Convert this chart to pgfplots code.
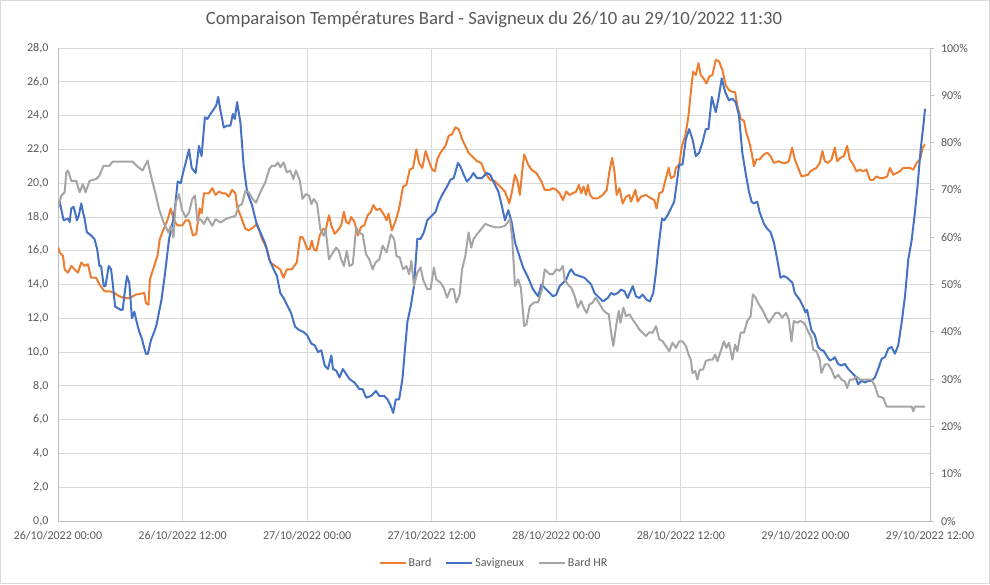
\documentclass[border=0pt]{standalone}
\usepackage{fontspec}
\setmainfont{Carlito}
\usepackage{pgfplots}
\usepackage{pgfplotstable}
\pgfplotsset{compat=1.18}
\definecolor{cBard}{HTML}{ED7D31}
\definecolor{cSav}{HTML}{4472C4}
\definecolor{cHR}{HTML}{A5A5A5}
\definecolor{cGrid}{HTML}{D9D9D9}
\definecolor{cAxis}{HTML}{BFBFBF}
\definecolor{cText}{HTML}{595959}

\pgfplotstableread{
t T
0.00 16.2
0.16 15.9
0.48 15.7
0.64 14.9
0.96 14.7
1.28 15.1
1.60 14.9
1.92 14.7
2.24 15.3
2.56 15.1
2.88 15.2
3.19 14.4
3.67 14.4
3.99 14.0
4.47 13.6
4.95 13.6
5.43 13.5
5.91 13.3
6.39 13.2
6.87 13.2
7.51 13.4
8.31 13.5
8.47 12.9
8.72 12.8
8.85 14.3
9.27 15.1
9.58 15.7
9.81 16.7
10.13 17.2
10.54 17.8
10.86 18.5
11.18 17.8
11.50 17.5
11.98 17.5
12.30 17.8
12.62 17.8
13.00 16.9
13.32 17.0
13.64 18.5
13.83 18.2
14.06 19.4
14.54 19.4
14.86 19.7
15.18 19.3
15.50 19.5
15.81 19.4
16.13 19.4
16.45 19.2
16.77 19.6
17.09 19.4
17.25 18.6
17.57 18.1
18.05 17.3
18.37 17.2
18.85 17.4
19.17 17.6
19.65 16.7
20.13 16.1
20.45 15.3
20.93 15.1
21.41 14.9
21.73 14.4
22.04 14.9
22.52 14.9
23.00 15.3
23.32 16.8
23.55 16.8
23.78 16.5
24.00 16.1
24.25 16.1
24.45 16.6
24.64 16.1
24.89 16.0
25.21 16.9
25.53 17.3
25.78 17.2
26.10 18.1
26.33 17.5
26.65 17.0
26.96 17.2
27.28 17.5
27.54 18.3
27.76 17.7
28.02 17.6
28.24 18.0
28.56 17.7
28.88 16.9
29.20 17.4
29.51 17.5
29.83 18.1
30.15 18.3
30.37 18.7
30.69 18.4
31.01 18.5
31.43 18.1
31.65 17.8
31.84 18.2
32.16 17.2
32.54 17.8
32.86 18.5
33.24 19.8
33.56 19.9
33.88 20.8
34.20 20.9
34.52 22.0
34.77 21.2
35.09 20.9
35.41 21.9
35.73 21.3
36.05 20.8
36.30 20.7
36.53 21.4
36.84 21.8
37.32 22.2
37.64 22.8
37.96 22.9
38.28 23.3
38.60 23.2
38.92 22.6
39.24 22.2
39.55 21.8
39.87 21.6
40.35 21.3
40.76 21.2
41.15 20.6
41.63 20.2
42.10 20.1
42.58 19.8
43.06 19.5
43.47 18.8
43.70 19.4
44.02 20.5
44.27 20.1
44.49 19.3
44.72 20.7
44.91 21.7
45.29 21.1
45.61 20.8
46.09 20.6
46.57 20.1
46.88 19.6
47.36 19.6
47.68 19.7
48.00 19.6
48.32 19.4
48.64 19.0
48.96 19.5
49.28 19.3
49.60 19.4
49.92 19.5
50.18 19.9
50.40 19.4
50.62 19.8
50.88 19.3
51.04 19.9
51.26 19.3
51.52 19.1
52.00 19.1
52.48 19.3
52.86 19.6
53.12 20.7
53.38 21.5
53.60 20.7
53.82 19.3
54.08 19.7
54.40 18.8
54.72 19.2
55.04 19.3
55.20 18.9
55.62 19.6
55.84 18.9
56.16 19.2
56.64 19.3
57.12 19.1
57.44 19.0
57.66 18.5
57.92 19.4
58.24 19.5
58.56 20.3
58.82 20.9
59.04 20.3
59.36 20.4
59.52 20.9
59.84 21.1
60.10 22.2
60.42 22.8
60.74 24.0
60.96 25.4
61.18 26.6
61.44 26.4
61.70 27.1
61.92 26.4
62.18 26.2
62.46 25.9
62.72 26.3
63.04 26.4
63.36 27.3
63.68 27.2
64.00 26.7
64.32 25.8
64.64 25.5
64.96 25.4
65.22 25.4
65.44 24.6
65.76 23.8
66.08 23.7
66.30 23.0
66.56 22.5
66.82 21.8
67.04 21.0
67.26 21.4
67.58 21.4
68.00 21.7
68.32 21.8
68.64 21.6
68.96 21.2
69.44 21.3
69.76 21.2
70.14 21.2
70.40 21.3
70.72 22.1
70.98 21.4
71.30 20.9
71.62 20.4
71.94 20.45
72.26 20.5
72.48 20.7
72.74 20.8
73.06 20.9
73.38 21.2
73.64 21.9
73.87 21.3
74.19 21.2
74.51 21.4
74.83 22.1
75.06 21.3
75.38 21.5
75.70 21.6
76.02 22.2
76.28 21.4
76.60 21.1
76.92 20.7
77.24 20.8
77.57 20.7
77.89 20.8
78.21 20.2
78.53 20.2
78.85 20.4
79.17 20.3
79.50 20.3
79.88 20.4
80.14 20.9
80.46 20.5
80.78 20.6
81.11 20.7
81.43 20.9
81.75 20.9
82.07 20.9
82.39 20.8
82.71 21.2
83.04 21.4
83.29 22.1
83.52 22.3
}\bard

\pgfplotstableread{
t T
0.00 18.6
0.16 18.9
0.54 17.8
0.96 17.9
1.12 17.7
1.28 18.5
1.50 18.6
1.63 18.3
1.82 17.8
2.01 18.1
2.24 18.8
2.40 18.3
2.56 17.9
2.78 17.1
3.19 16.9
3.51 16.7
3.77 16.1
3.99 15.1
4.15 15.1
4.41 13.9
4.57 13.9
4.89 15.1
5.11 14.9
5.27 14.1
5.50 12.7
5.75 12.6
6.07 12.5
6.23 12.5
6.42 13.5
6.65 14.5
6.87 14.1
7.12 12.0
7.35 12.4
7.57 11.8
7.83 11.2
8.08 10.8
8.24 10.4
8.47 9.9
8.66 9.9
8.95 10.7
9.27 11.2
9.49 11.6
9.74 12.4
9.97 13.1
10.32 14.7
10.70 16.7
11.09 17.8
11.28 18.6
11.53 20.1
11.82 20.0
12.04 20.6
12.30 21.2
12.62 22.0
12.88 20.9
13.26 20.6
13.58 22.2
13.83 21.6
14.15 23.9
14.38 23.8
14.70 24.1
15.02 24.4
15.24 24.6
15.43 25.1
15.65 24.3
15.97 23.3
16.29 23.4
16.61 23.4
16.84 24.1
17.03 23.8
17.25 24.8
17.57 23.6
17.89 21.0
18.21 19.5
18.69 18.7
19.17 17.5
19.49 17.1
19.97 16.4
20.35 15.5
20.77 14.9
21.09 14.5
21.41 13.5
21.73 13.2
22.14 12.7
22.46 12.3
22.84 11.5
23.23 11.3
23.62 11.2
24.00 11.0
24.41 10.5
24.73 10.4
25.05 10.0
25.37 10.1
25.69 9.2
26.01 9.0
26.33 9.8
26.49 9.0
26.80 8.9
27.12 8.5
27.44 9.0
27.76 8.7
28.08 8.4
28.56 8.2
29.04 7.8
29.35 7.8
29.67 7.3
30.15 7.4
30.63 7.7
30.95 7.4
31.43 7.4
31.74 7.2
32.06 6.8
32.29 6.4
32.54 7.2
32.86 7.2
33.18 8.4
33.43 10.2
33.66 11.8
33.98 12.7
34.29 13.9
34.61 16.7
34.93 16.7
35.25 17.1
35.57 17.8
36.05 18.1
36.37 18.3
36.69 18.9
37.00 19.3
37.48 19.8
37.80 20.2
38.12 20.3
38.53 21.2
38.76 21.0
39.08 20.5
39.39 20.1
39.71 20.3
40.03 20.6
40.35 20.3
40.83 20.3
41.31 20.6
41.63 20.5
42.10 19.9
42.42 19.5
42.74 18.7
43.06 17.8
43.38 18.4
43.70 17.7
44.02 16.5
44.49 15.6
44.81 15.0
45.29 14.4
45.77 13.7
46.25 13.3
46.57 14.0
47.04 13.7
47.36 13.5
47.68 13.3
48.00 13.4
48.32 13.9
48.64 14.1
48.96 14.3
49.22 14.7
49.44 14.9
49.76 14.6
50.24 14.5
50.72 14.4
51.04 14.2
51.36 14.0
51.68 13.5
52.00 13.3
52.48 13.0
52.96 13.2
53.28 13.5
53.60 13.4
53.92 13.5
54.24 13.7
54.56 13.6
54.88 13.2
55.36 13.9
55.68 13.3
56.00 13.2
56.32 13.4
56.70 13.1
57.02 13.0
57.34 13.5
57.60 14.7
57.86 16.3
58.18 17.9
58.40 17.8
58.72 18.1
59.04 18.5
59.36 18.9
59.58 19.9
59.84 21.1
60.16 21.1
60.48 22.6
60.80 23.2
61.12 22.6
61.44 21.6
61.76 21.8
62.08 22.4
62.40 23.2
62.66 23.2
62.98 25.1
63.36 24.2
63.62 25.0
63.94 26.2
64.26 25.4
64.64 24.9
64.96 25.0
65.28 24.8
65.60 24.0
65.92 21.8
66.24 20.6
66.56 19.5
66.82 18.9
67.04 18.8
67.36 18.9
67.58 18.3
68.00 17.6
68.32 17.3
68.64 17.1
68.96 16.5
69.28 15.5
69.60 14.4
69.92 14.5
70.24 14.4
70.75 14.1
70.97 13.5
71.20 13.3
71.45 13.1
71.77 12.7
72.00 12.35
72.16 12.5
72.35 11.95
72.58 11.3
72.90 11.0
73.22 10.3
73.54 10.1
73.71 10.1
74.03 9.8
74.35 9.5
74.67 9.6
74.83 9.7
75.15 9.3
75.47 9.2
75.80 9.3
76.12 9.0
76.44 8.8
76.76 8.6
77.08 8.1
77.41 8.3
77.73 8.2
78.05 8.3
78.37 8.3
78.69 8.5
79.01 9.0
79.34 9.6
79.66 9.7
79.98 10.2
80.30 10.3
80.62 9.9
80.94 10.4
81.27 11.75
81.59 13.3
81.91 15.5
82.23 16.6
82.55 18.3
82.81 19.9
83.10 22.0
83.36 23.4
83.52 24.4
}\sav

\pgfplotstableread{
t H
0.00 66.3
0.32 68.8
0.64 69.5
0.80 73.7
0.96 74.1
1.28 71.9
1.76 71.9
2.08 69.5
2.40 71.2
2.65 69.5
3.04 71.9
3.67 72.3
3.99 73.0
4.38 75.1
4.95 75.1
5.27 76.0
7.19 76.0
7.57 75.1
8.15 74.1
8.63 76.2
8.95 73.0
9.36 69.5
9.74 65.9
10.22 62.8
10.64 61.0
10.86 62.4
11.12 59.9
11.34 67.3
11.66 69.1
11.92 65.9
12.30 64.2
12.62 65.2
12.94 68.1
13.19 68.8
13.42 63.5
13.74 63.8
14.06 62.8
14.38 64.2
14.86 62.4
15.18 63.8
15.65 63.1
16.13 63.8
16.61 64.2
17.09 64.5
17.41 66.6
17.73 67.0
18.05 69.8
18.37 69.5
18.75 68.1
19.07 67.3
19.49 69.5
19.97 71.6
20.35 74.4
20.61 75.1
20.93 75.1
21.18 75.8
21.41 74.8
21.73 75.8
22.04 73.7
22.36 74.1
22.68 72.3
22.91 74.1
23.30 72.0
23.55 68.1
23.87 69.1
24.19 68.8
24.41 67.0
24.64 68.1
24.96 67.0
25.27 61.7
25.59 60.3
25.78 61.7
26.10 55.3
26.49 56.8
26.80 57.8
27.06 57.1
27.28 55.3
27.54 53.9
27.82 57.1
28.08 53.9
28.40 54.3
28.72 62.1
28.97 61.0
29.35 60.6
29.67 56.4
29.99 55.3
30.31 53.2
30.57 54.6
30.95 55.3
31.27 58.2
31.65 56.8
32.06 60.6
32.38 59.6
32.61 56.0
32.92 55.7
33.24 53.2
33.56 53.9
33.82 52.2
34.04 55.0
34.29 49.7
34.61 52.5
34.93 53.6
35.16 51.1
35.57 49.0
35.89 49.0
36.21 53.6
36.43 51.1
36.84 50.4
37.16 49.3
37.48 47.2
37.80 49.0
38.12 49.0
38.37 46.2
38.69 47.9
38.92 53.2
39.24 56.0
39.55 61.0
39.81 57.8
40.03 59.6
40.35 60.6
40.76 61.7
41.15 62.8
41.63 62.4
42.10 62.1
42.58 62.1
43.06 62.4
43.54 63.8
43.76 59.6
44.02 49.7
44.33 51.1
44.59 49.3
44.91 41.2
45.13 41.6
45.45 45.4
45.86 46.2
46.25 46.2
46.63 49.0
46.88 53.2
47.36 52.2
47.68 52.2
48.00 53.2
48.32 52.9
48.64 53.9
48.80 51.1
49.12 50.0
49.44 49.3
49.76 47.6
50.08 45.1
50.40 46.5
50.72 44.7
50.94 44.0
51.20 45.8
51.52 46.2
51.78 47.2
52.10 46.2
52.48 44.7
52.80 44.0
53.06 43.7
53.28 39.8
53.50 37.0
53.76 41.2
54.02 44.4
54.18 41.9
54.46 45.1
54.72 43.3
55.04 43.7
55.36 42.6
55.68 41.6
56.00 40.5
56.32 39.8
56.64 39.1
56.96 39.9
57.28 39.8
57.60 41.2
57.92 38.4
58.24 38.0
58.56 37.0
58.88 35.9
59.20 37.7
59.52 36.6
59.84 38.0
60.16 38.0
60.48 37.0
60.74 35.2
60.96 34.1
61.12 31.3
61.38 31.7
61.60 29.9
61.82 32.0
62.14 32.0
62.40 33.8
62.72 34.1
63.04 34.1
63.30 35.2
63.52 33.8
63.84 35.9
64.16 38.0
64.38 36.6
64.64 37.7
64.96 34.1
65.22 37.3
65.44 35.9
65.76 39.8
66.08 39.8
66.40 42.3
66.72 43.3
66.94 47.9
67.20 47.2
67.52 45.8
67.84 44.7
68.16 43.3
68.48 41.9
68.80 43.0
69.12 44.0
69.44 44.0
69.76 43.0
70.14 44.0
70.40 42.6
70.66 38.0
70.88 42.3
71.20 41.9
71.52 42.3
71.84 41.9
72.03 41.2
72.26 40.1
72.58 38.7
72.74 36.2
73.06 35.9
73.38 34.1
73.54 31.3
73.87 33.1
74.19 33.1
74.51 32.0
74.83 30.2
75.15 30.9
75.47 29.9
75.80 29.5
76.02 28.1
76.28 29.9
76.60 29.9
76.92 30.6
77.24 29.9
78.37 29.9
78.69 28.5
79.01 26.4
79.50 26.0
79.82 24.2
82.23 24.2
82.39 23.2
82.55 24.2
83.52 24.2
}\hr

\begin{document}
\begin{tikzpicture}[x=1pt,y=1pt]
\useasboundingbox (0,0) rectangle (990,584);
\draw[cGrid, line width=0.8pt] (0.5,0.5) rectangle (989.5,583.5);
\node[font=\fontsize{18.7}{22}\selectfont, text=cText] at (494,564) {Comparaison Températures Bard - Savigneux du 26/10 au 29/10/2022 11:30};
\begin{axis}[
  at={(58pt,63pt)}, anchor=south west,
  scale only axis, width=872pt, height=473pt,
  xmin=0, xmax=84, ymin=0, ymax=28,
  xtick={0,12,...,84},
  xticklabels={26/10/2022 00:00,26/10/2022 12:00,27/10/2022 00:00,27/10/2022 12:00,28/10/2022 00:00,28/10/2022 12:00,29/10/2022 00:00,29/10/2022 12:00},
  ytick={0,2,...,28},
  ticklabel style={font=\fontsize{12}{14}\selectfont, text=cText},
  xticklabel style={yshift=-4.5pt},
  yticklabel style={xshift=-4pt, /pgf/number format/.cd, fixed, fixed zerofill, precision=1, use comma, assume math mode=true},
  grid=major, major grid style={cGrid, line width=0.8pt},
  axis x line=bottom, axis y line=left,
  axis line style={-, cAxis, line width=0.8pt},
  tick style={draw=none},
  line join=round,
]
\addplot[cBard, line width=2pt, no marks] table[x=t, y=T] {\bard};
\addplot[cSav, line width=2pt, no marks] table[x=t, y=T] {\sav};
\end{axis}
\begin{axis}[
  at={(58pt,63pt)}, anchor=south west,
  scale only axis, width=872pt, height=473pt,
  xmin=0, xmax=84, ymin=0, ymax=100,
  axis x line=none, axis y line=right,
  axis line style={-, cAxis, line width=0.8pt},
  ytick={0,10,...,100},
  yticklabels={0\%,10\%,20\%,30\%,40\%,50\%,60\%,70\%,80\%,90\%,100\%},
  ticklabel style={font=\fontsize{12}{14}\selectfont, text=cText},
  yticklabel style={xshift=3.5pt},
  tick align=outside, major tick length=4pt,
  tick style={cAxis, line width=0.8pt},
  line join=round,
  legend columns=3,
  legend style={at={(0.5,-0.089)}, anchor=center, draw=none, fill=none,
    font=\fontsize{12}{14}\selectfont, text=cText,
    /tikz/every even column/.append style={column sep=12pt}},
  legend image code/.code={\draw[#1] (0pt,0pt) -- (26pt,0pt);},
]
\addlegendimage{cBard, line width=2pt}
\addlegendimage{cSav, line width=2pt}
\addplot[cHR, line width=2pt, no marks] table[x=t, y=H] {\hr};
\legend{Bard, Savigneux, Bard HR}
\end{axis}
\end{tikzpicture}
\end{document}
